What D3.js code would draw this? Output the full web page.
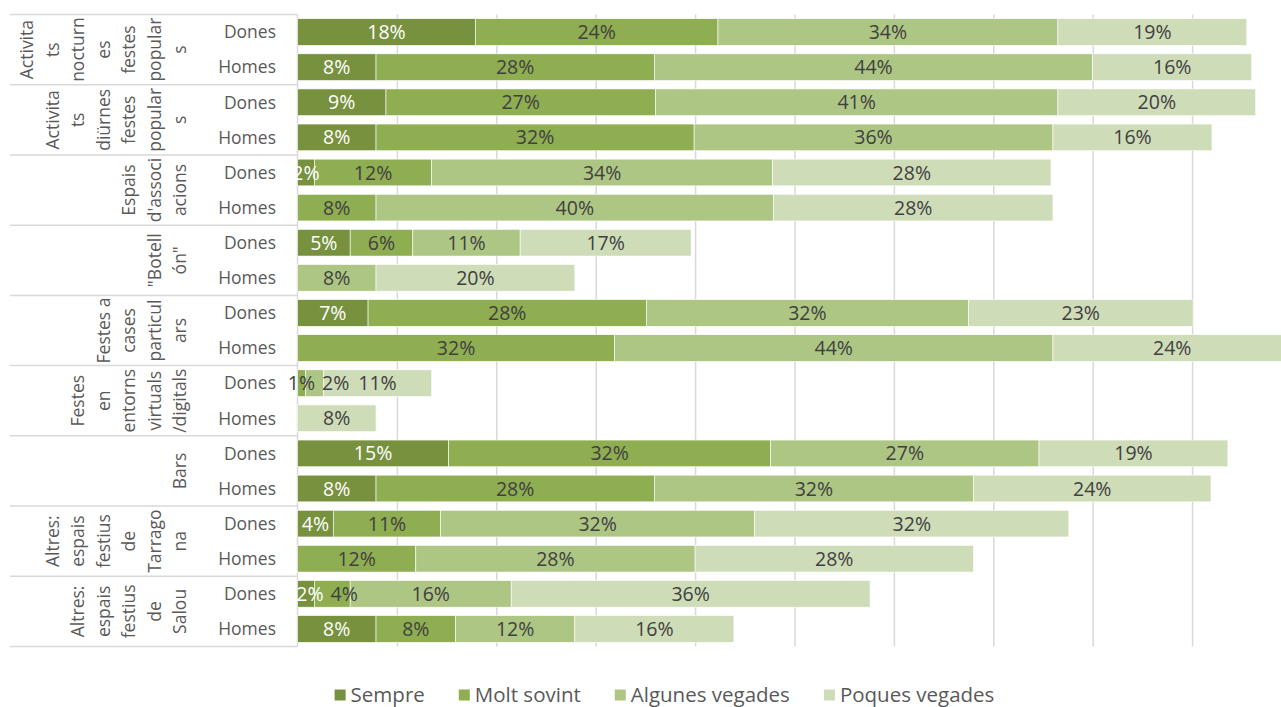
<!DOCTYPE html>
<html>
<head>
<meta charset="utf-8">
<script src="https://cdn.jsdelivr.net/npm/d3@7"></script>
<style>
  body { margin: 0; background: #fff; }
  svg { display: block; font-family: "Open Sans", sans-serif; }
</style>
</head>
<body>
<svg width="1281" height="707"></svg>
<script>
// group labels, already wrapped the way the original chart breaks them
var groups = [
    ["Activita", "ts", "nocturn", "es", "festes", "popular", "s"],
    ["Activita", "ts", "diürnes", "festes", "popular", "s"],
    ["Espais", "d'associ", "acions"],
    ["\"Botell", "ón\""],
    ["Festes a", "cases", "particul", "ars"],
    ["Festes", "en", "entorns", "virtuals", "/digitals"],
    ["Bars"],
    ["Altres:", "espais", "festius", "de", "Tarrago", "na"],
    ["Altres:", "espais", "festius", "de", "Salou"]
];
var sexes = ["Dones", "Homes"];
var series = ["Sempre", "Molt sovint", "Algunes vegades", "Poques vegades"];
var colors = ["#77913f", "#8fad51", "#aec684", "#cfdcb8"];

// one value per row: Dones / Homes for each group in turn (percent)
var sempre         = [17.9, 7.9, 8.9, 7.9, 1.7, 0,    5.3, 0,    7.1, 0,    0,   0,   15.2, 7.9, 3.6, 0,    1.7, 7.9];
var moltSovint     = [24.4, 28.0, 27.1, 32.0, 11.8, 7.9, 6.3, 0,   28.0, 31.9, 0.8, 0,   32.4, 28.0, 10.8, 11.9, 3.6, 8.0];
var algunesVegades = [34.2, 44.1, 40.5, 36.1, 34.3, 40.0, 10.8, 7.9, 32.4, 44.1, 1.8, 0,  27.0, 32.1, 31.6, 28.1, 16.2, 12.0];
var poquesVegades  = [19.0, 16.0, 19.9, 16.0, 28.0, 28.1, 17.2, 20.0, 22.6, 24.0, 10.9, 7.9, 19.0, 23.9, 31.6, 28.0, 36.1, 16.0];

var gridTicks = [10, 20, 30, 40, 50, 60, 70, 80, 90, 100];

var svg = d3.select("svg");
var top0 = 14.5, bottom0 = 646.5, left0 = 297.5;

var rows = [];
groups.forEach(function (g, gi) {
    sexes.forEach(function (s, si) {
        var i = gi * 2 + si;
        rows.push({
            id: i, group: gi, sex: s,
            values: [sempre[i], moltSovint[i], algunesVegades[i], poquesVegades[i]]
        });
    });
});

var x = d3.scaleLinear().domain([0, 100]).range([left0, left0 + 994]);
var y = d3.scaleBand()
    .domain(rows.map(function (d) { return d.id; }))
    .range([top0, bottom0])
    .paddingInner(0.24)
    .paddingOuter(0.12);
var step = y.step();

// vertical gridlines
svg.append("g")
    .attr("class", "grid")
    .attr("transform", "translate(0," + bottom0 + ")")
    .call(d3.axisBottom(x).tickValues(gridTicks).tickSize(-(bottom0 - top0)).tickFormat(""))
    .call(function (g) {
        g.select(".domain").remove();
        g.selectAll("line").attr("stroke", "#d9d9d9").attr("stroke-width", 1.5);
    });

// category axis line and group separators
svg.append("line")
    .attr("x1", left0).attr("x2", left0)
    .attr("y1", top0).attr("y2", bottom0)
    .attr("stroke", "#d9d9d9").attr("stroke-width", 1.5);

svg.append("g").selectAll("line")
    .data(d3.range(groups.length + 1))
    .join("line")
    .attr("x1", 10).attr("x2", left0)
    .attr("y1", function (k) { return top0 + k * 2 * step; })
    .attr("y2", function (k) { return top0 + k * 2 * step; })
    .attr("stroke", "#d9d9d9").attr("stroke-width", 1.5);

// stacked bars
var stacked = d3.stack()
    .keys([0, 1, 2, 3])
    .value(function (d, k) { return d.values[k]; })(rows);

var layer = svg.append("g").selectAll("g")
    .data(stacked)
    .join("g")
    .attr("fill", function (d) { return colors[d.key]; });

layer.selectAll("rect")
    .data(function (d) { return d.filter(function (p) { return p[1] - p[0] > 0; }); })
    .join("rect")
    .attr("x", function (p) { return x(p[0]); })
    .attr("y", function (p) { return y(p.data.id); })
    .attr("width", function (p) { return x(p[1]) - x(p[0]); })
    .attr("height", y.bandwidth())
    .attr("stroke", "#fff")
    .attr("stroke-width", 0.6);

// data labels
var labels = [];
stacked.forEach(function (s) {
    s.forEach(function (p) {
        if (p[1] - p[0] > 0) labels.push({ key: s.key, p: p, row: p.data.id });
    });
});

var labelSel = svg.append("g").selectAll("text")
    .data(labels)
    .join("text")
    .attr("x", function (d) { return x((d.p[0] + d.p[1]) / 2); })
    .attr("y", function (d) { return y(d.row) + y.bandwidth() / 2; })
    .attr("dy", "0.36em")
    .attr("text-anchor", "middle")
    .attr("font-size", 19.5)
    .attr("fill", function (d) { return d.key === 0 ? "#ffffff" : "#404040"; })
    .text(function (d) { return Math.round(d.p[1] - d.p[0]) + "%"; });

// spread small labels apart when they would collide, like Excel does
labelSel.each(function (d) {
    d.cx = x((d.p[0] + d.p[1]) / 2);
    d.w = this.getComputedTextLength();
    d.node = this;
});
d3.groups(labels, function (d) { return d.row; }).forEach(function (g) {
    var list = g[1].sort(function (a, b) { return a.cx - b.cx; });
    for (var i = 1; i < list.length; ++i) {
        var prev = list[i - 1], cur = list[i];
        var minX = prev.cx + prev.w / 2 + 7 + cur.w / 2;
        if (cur.cx < minX) {
            // split the shift: nudge the earlier one right a bit too
            var need = minX - cur.cx;
            if (prev.key === 0 && i === 1) prev.cx += Math.min(need / 2, 10);
            cur.cx = prev.cx + prev.w / 2 + 7 + cur.w / 2;
        }
    }
    list.forEach(function (d) { d3.select(d.node).attr("x", d.cx); });
});

// Dones / Homes labels
svg.append("g").selectAll("text")
    .data(rows)
    .join("text")
    .attr("x", 276)
    .attr("y", function (d) { return y(d.id) + y.bandwidth() / 2; })
    .attr("dy", "0.36em")
    .attr("text-anchor", "end")
    .attr("font-size", 17.5)
    .attr("fill", "#595959")
    .text(function (d) { return d.sex; });

// rotated group labels, last line sits at x = 180
var lineGap = 25.5;
groups.forEach(function (lines, gi) {
    var cy = top0 + (2 * gi + 1) * step;
    var n = lines.length;
    svg.append("g").selectAll("text")
        .data(lines)
        .join("text")
        .attr("transform", function (t, i) {
            return "translate(" + (180 - (n - 1 - i) * lineGap) + "," + cy + ") rotate(-90)";
        })
        .attr("dy", "0.36em")
        .attr("text-anchor", "middle")
        .attr("font-size", 17.5)
        .attr("fill", "#595959")
        .text(function (t) { return t; });
});

// legend
var legend = svg.append("g").attr("transform", "translate(0,695)");
var lx = 0;
var items = legend.selectAll("g")
    .data(series)
    .join("g");
items.append("rect")
    .attr("y", -5.5).attr("width", 11).attr("height", 11)
    .attr("fill", function (d, i) { return colors[i]; });
items.append("text")
    .attr("x", 16)
    .attr("dy", "0.36em")
    .attr("font-size", 20.5)
    .attr("fill", "#595959")
    .text(function (d) { return d; });
items.each(function () {
    var w = this.getBBox().width;
    d3.select(this).attr("transform", "translate(" + lx + ",0)");
    lx += w + 34;
});
lx -= 34;
legend.attr("transform", "translate(" + (664.5 - lx / 2) + ",695)");
</script>
</body>
</html>
